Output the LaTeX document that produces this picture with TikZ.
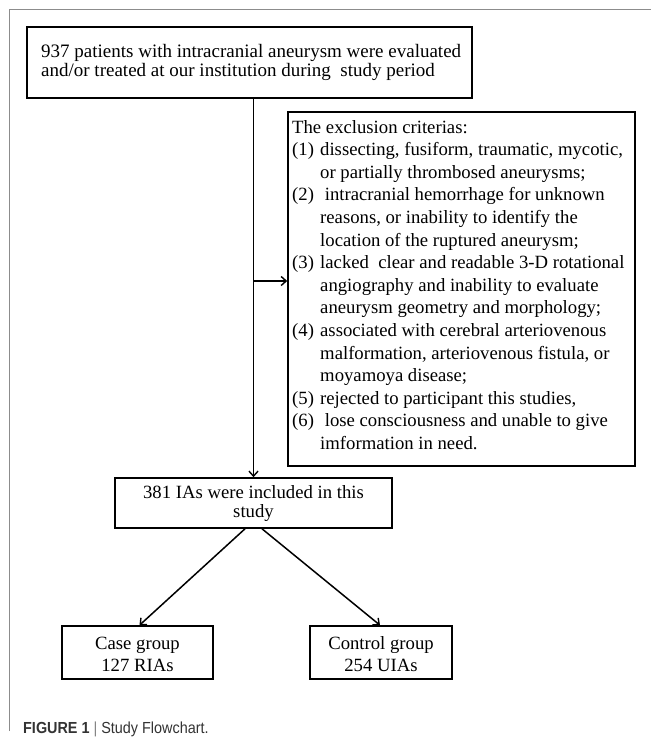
\documentclass[tikz,border=0pt]{standalone}
\usepackage{fontspec}
\setmainfont{Liberation Serif}
\newfontfamily\capfont[FakeStretch=0.9]{Liberation Sans}
\usetikzlibrary{arrows.meta,calc}
\newcommand{\exl}[2]{\makebox[28pt][l]{#1}\mbox{#2}}
\begin{document}
\begin{tikzpicture}[x=1pt,y=-1pt,
  box/.style={draw, line width=1.6pt, inner sep=0pt},
  txt/.style={inner sep=0pt, align=center},
  arr/.style={line width=1.5pt, -{Straight Barb[length=5pt,width=9pt,line width=1.4pt]}}]
\useasboundingbox (0,0) rectangle (651,742);
\fill[white] (0,0) rectangle (651,742);
\draw[black!45, line width=1pt] (9,731) -- (9,9) -- (651,9);

% boxes
\node[box, minimum width=445pt, minimum height=71pt] (top) at (249.5,62.5) {};
\node[box, minimum width=347pt, minimum height=354pt] (excl) at (461.5,289) {};
\node[box, minimum width=277pt, minimum height=50pt] (incl) at (253.5,503) {};
\node[box, minimum width=151pt, minimum height=53pt] (case) at (137.5,652.5) {};
\node[box, minimum width=142pt, minimum height=53pt] (ctrl) at (381,652.5) {};

% texts
\node[txt, align=left, anchor=west, font=\fontsize{19}{16}\selectfont] (toptxt) at (41,62.5)
  {937 patients with intracranial aneurysm were evaluated\\and/or treated at our institution during\ \ study period};

\node[txt, align=left, anchor=west, font=\fontsize{18.7}{22.6}\selectfont] (excltxt) at (292,285) {%
\mbox{The exclusion criterias:}\\
\exl{(1)}{dissecting, fusiform, traumatic, mycotic,}\\
\exl{}{or partially thrombosed aneurysms;}\\
\exl{(2)}{\ intracranial hemorrhage for unknown}\\
\exl{}{reasons, or inability to identify the}\\
\exl{}{location of the ruptured aneurysm;}\\
\exl{(3)}{lacked\ \ clear and readable 3-D rotational}\\
\exl{}{angiography and inability to evaluate}\\
\exl{}{aneurysm geometry and morphology;}\\
\exl{(4)}{associated with cerebral arteriovenous}\\
\exl{}{malformation, arteriovenous fistula, or}\\
\exl{}{moyamoya disease;}\\
\exl{(5)}{rejected to participant this studies,}\\
\exl{(6)}{\ lose consciousness and unable to give}\\
\exl{}{imformation in need.}};

\node[txt, font=\fontsize{18.7}{19}\selectfont] (incltxt) at (253.5,504)
  {381 IAs were included in this\\study};
\node[txt, font=\fontsize{18.7}{22}\selectfont] (casetxt) at (137.5,654.5)
  {Case group\\127 RIAs};
\node[txt, font=\fontsize{18.7}{22}\selectfont] (ctrltxt) at (381,654.5)
  {Control group\\254 UIAs};

% connectors
\draw[arr] (top.south -| incl.north) -- (incl.north);
\coordinate (br) at (253.5,281);
\draw[arr] (br) -- (br -| excl.west);
\draw[arr] ($(incl.south)+(-8.5,0)$) -- ($(case.north)+(2,0)$);
\draw[arr] ($(incl.south)+(8.5,0)$) -- ($(ctrl.north)+(-1,0)$);

% caption
\node[anchor=base west, inner sep=0pt, font=\capfont\fontsize{16}{18}\selectfont, text=black!80] (cap) at (23,733)
  {\textbf{FIGURE 1} {\color{black!50}|} Study Flowchart.};
\end{tikzpicture}
\end{document}
